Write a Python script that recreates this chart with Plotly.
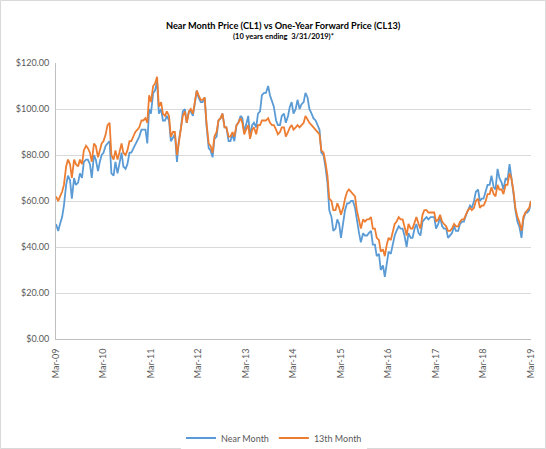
import pandas as pd
import plotly.graph_objects as go

# Prix CL1 (near month) et CL13 (13th month), un point le 1er et le 15 de chaque mois
near_2009 = [50, 47, 50, 53, 58, 67, 71, 69, 61, 70, 67, 68, 72, 70, 77, 78, 78, 76, 70]
near_2010 = [80, 78, 73, 77, 80, 81, 84, 85, 86, 72, 71, 77, 72, 76, 81, 75, 74, 76, 81, 81, 83, 85, 87, 88]
near_2011 = [91, 91, 91, 85, 100, 98, 107, 108, 112, 98, 100, 95, 95, 97, 95, 86, 88, 89, 77, 86, 92, 99, 100, 94]
near_2012 = [99, 99, 97, 102, 108, 105, 103, 103, 105, 93, 83, 82, 79, 87, 88, 95, 96, 98, 92, 92, 86, 86, 89, 86]
near_2013 = [93, 94, 97, 96, 90, 93, 97, 88, 93, 94, 92, 98, 99, 106, 107, 107, 110, 106, 103, 101, 95, 93, 93, 97]
near_2014 = [98, 94, 97, 101, 103, 98, 100, 104, 100, 102, 103, 107, 105, 100, 98, 96, 95, 93, 91, 81, 80, 75, 68, 56]
near_2015 = [53, 47, 48, 52, 50, 44, 50, 56, 59, 59, 60, 60, 57, 51, 46, 42, 46, 45, 45, 46, 47, 41, 41, 36]
near_2016 = [37, 30, 32, 27, 34, 38, 37, 41, 45, 47, 49, 48, 48, 45, 40, 46, 44, 44, 48, 50, 46, 45, 51, 52]
near_2017 = [53, 52, 53, 53, 53, 48, 50, 53, 49, 48, 48, 44, 45, 46, 49, 47, 47, 50, 51, 51, 54, 56, 58, 57]
near_2018 = [60, 64, 65, 60, 61, 61, 64, 67, 67, 71, 66, 65, 74, 70, 68, 65, 70, 69, 76, 71, 63, 56, 51, 49]
near_2019 = [44, 52, 55, 55, 56, 60]

fwd_2009 = [62, 60, 62, 64, 67, 75, 78, 76, 70, 78, 76, 75, 78, 76, 82, 84, 83, 81, 77]
fwd_2010 = [85, 84, 79, 82, 85, 86, 89, 93, 94, 80, 78, 82, 78, 81, 85, 81, 80, 82, 86, 86, 88, 90, 91, 92]
fwd_2011 = [95, 95, 96, 94, 106, 103, 110, 111, 114, 101, 103, 98, 97, 99, 97, 88, 90, 90, 80, 86, 92, 97, 99, 94]
fwd_2012 = [99, 100, 98, 103, 108, 106, 104, 104, 105, 94, 85, 84, 81, 88, 90, 95, 96, 98, 92, 92, 88, 88, 90, 88]
fwd_2013 = [93, 94, 96, 94, 89, 91, 93, 87, 91, 92, 89, 93, 93, 95, 95, 95, 96, 94, 93, 93, 91, 89, 90, 92]
fwd_2014 = [92, 88, 90, 92, 93, 91, 92, 93, 92, 93, 94, 97, 95, 94, 93, 92, 91, 90, 89, 82, 81, 77, 71, 61]
fwd_2015 = [60, 56, 56, 59, 57, 54, 57, 61, 64, 65, 64, 63, 62, 56, 52, 48, 52, 51, 52, 52, 53, 48, 48, 44]
fwd_2016 = [43, 38, 39, 36, 41, 44, 43, 47, 50, 51, 53, 52, 52, 49, 45, 50, 48, 48, 51, 53, 50, 48, 54, 56]
fwd_2017 = [56, 55, 55, 55, 55, 51, 52, 54, 51, 50, 49, 47, 47, 48, 50, 49, 49, 51, 52, 52, 54, 56, 57, 56]
fwd_2018 = [57, 60, 61, 57, 58, 58, 60, 63, 63, 66, 63, 62, 67, 65, 65, 63, 67, 67, 72, 70, 64, 57, 53, 51]
fwd_2019 = [47, 53, 55, 56, 57, 60]

near_month = (near_2009 + near_2010 + near_2011 + near_2012 + near_2013 + near_2014
              + near_2015 + near_2016 + near_2017 + near_2018 + near_2019)
month_13 = (fwd_2009 + fwd_2010 + fwd_2011 + fwd_2012 + fwd_2013 + fwd_2014
            + fwd_2015 + fwd_2016 + fwd_2017 + fwd_2018 + fwd_2019)

# dates : le 1er et le 15 de chaque mois, du 15/03/2009 au 15/03/2019
debut = pd.Timestamp(2009, 3, 15)
fin = pd.Timestamp(2019, 3, 15)
dates = []
for y in range(2009, 2020):
    for m in range(1, 13):
        for d in (1, 15):
            dt = pd.Timestamp(y, m, d)
            if debut <= dt <= fin:
                dates.append(dt)

W, H = 546, 449
L, R, T, B = 56, 15, 63, 110
pw, ph = W - L - R, H - T - B

fig = go.Figure()
fig.add_trace(go.Scatter(x=dates, y=near_month, mode='lines', name='Near Month',
                         line=dict(color='#5B9BD5', width=1.8)))
fig.add_trace(go.Scatter(x=dates, y=month_13, mode='lines', name='13th Month',
                         line=dict(color='#ED7D31', width=1.8)))

fig.update_layout(
    width=W, height=H,
    margin=dict(l=L, r=R, t=T, b=B, autoexpand=False),
    paper_bgcolor='white', plot_bgcolor='white',
    font=dict(family='Lato, Open Sans, sans-serif', size=9, color='#595959'),
    showlegend=True,
    legend=dict(orientation='h', x=274 / W, xanchor='center', xref='container',
                y=(H - 438) / H, yanchor='middle', yref='container',
                font=dict(size=9, color='#595959'), itemwidth=30,
                tracegroupgap=0),
)

fig.update_xaxes(
    range=[debut, fin], tick0=debut, dtick='M12', tickformat='%b-%y',
    tickangle=-90, showgrid=False, showline=True, linecolor='#bfbfbf',
    linewidth=1, ticks='', zeroline=False, automargin=False,
    ticklabelstandoff=5,
)
fig.update_yaxes(
    range=[0, 120], dtick=20, tickformat='$,.2f', showgrid=True,
    gridcolor='#d9d9d9', gridwidth=1, showline=True, linecolor='#bfbfbf',
    linewidth=1, ticks='', zeroline=False, automargin=False,
    ticklabelstandoff=4,
)

# titre et sous-titre
fig.add_annotation(text='<b>Near Month Price (CL1) vs One-Year Forward Price (CL13)</b>',
                   xref='paper', yref='paper', x=(283 - L) / pw, y=1 + (T - 25) / ph,
                   showarrow=False, xanchor='center', yanchor='middle',
                   font=dict(size=9.2, color='#000000'))
fig.add_annotation(text='<b>(10 years ending  3/31/2019)*</b>',
                   xref='paper', yref='paper', x=(283 - L) / pw, y=1 + (T - 36) / ph,
                   showarrow=False, xanchor='center', yanchor='middle',
                   font=dict(size=7.5, color='#000000'))

# cadre du graphique
fig.add_shape(type='rect', xref='paper', yref='paper',
              x0=(0.5 - L) / pw, x1=(W - 0.5 - L) / pw,
              y0=-(B - 0.5) / ph, y1=1 + (T - 0.5) / ph,
              line=dict(color='#d9d9d9', width=1))

fig.write_html("out.html", config={'displayModeBar': False},
               post_script="document.body.style.margin='0';document.body.style.overflow='hidden';")
